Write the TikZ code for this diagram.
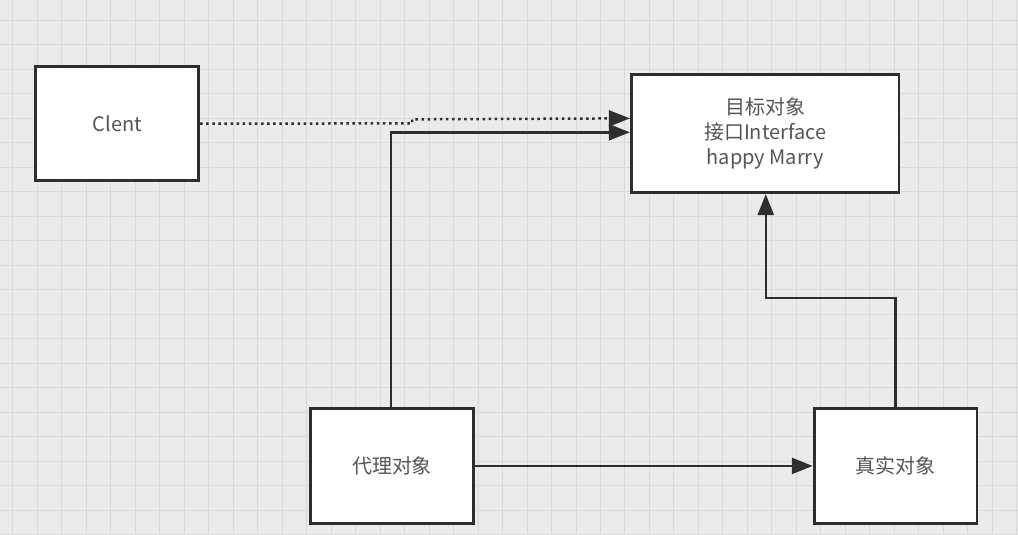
\documentclass[tikz,border=0pt]{standalone}
\usepackage{fontspec}
\setmainfont{Noto Sans CJK SC}
\usetikzlibrary{arrows.meta}
\definecolor{bgc}{HTML}{EBEBEB}
\definecolor{gridc}{HTML}{DADADA}
\definecolor{linec}{HTML}{2E2E2E}
\definecolor{textc}{HTML}{555555}
\begin{document}
\begin{tikzpicture}[x=1pt,y=-1pt,
  box/.style={draw=linec,line width=2.8pt,fill=white,inner sep=0pt,anchor=north west,
    text=textc,font=\fontsize{20}{25}\selectfont,align=center},
  conn/.style={draw=linec,line width=2.5pt,-{Triangle[length=21pt,width=16pt]}},
  dotconn/.style={conn,dash pattern=on 2.5pt off 3.6pt}]
\fill[bgc] (0,0) rectangle (1018,534);
\foreach \i in {0,...,41} {\draw[gridc,line width=0.9pt] (12.5+24.5*\i,0) -- (12.5+24.5*\i,534);}
\foreach \j in {0,...,21} {\draw[gridc,line width=0.9pt] (0,20+24.5*\j) -- (1018,20+24.5*\j);}
\useasboundingbox (0,0) rectangle (1018,534);
\node[box,minimum width=163pt,minimum height=114pt] (clent) at (34,65) {Clent};
\node[box,minimum width=268pt,minimum height=118pt] (target) at (630,73) {目标对象\\接口Interface\\happy Marry};
\node[box,minimum width=163pt,minimum height=115pt] (proxy) at (309,407) {代理对象};
\node[box,minimum width=163pt,minimum height=115pt] (real) at (813,407) {真实对象};
\coordinate (t1) at (target.west |- 0,118);
\coordinate (t2) at (target.west |- 0,132);
\coordinate (pu) at (391,0);
\coordinate (ru) at (896,0);
\coordinate (tb) at (766,0);
\draw[dotconn] (clent.east) -- (412,123) -- (412,119) -- (t1);
\draw[conn] (proxy.north -| pu) -- (pu |- t2) -- (t2);
\draw[conn] (real.north -| ru) -- (ru |- 0,298) -- (tb |- 0,298) -- (target.south -| tb);
\draw[conn] (proxy.east) -- (real.west);
\end{tikzpicture}
\end{document}
